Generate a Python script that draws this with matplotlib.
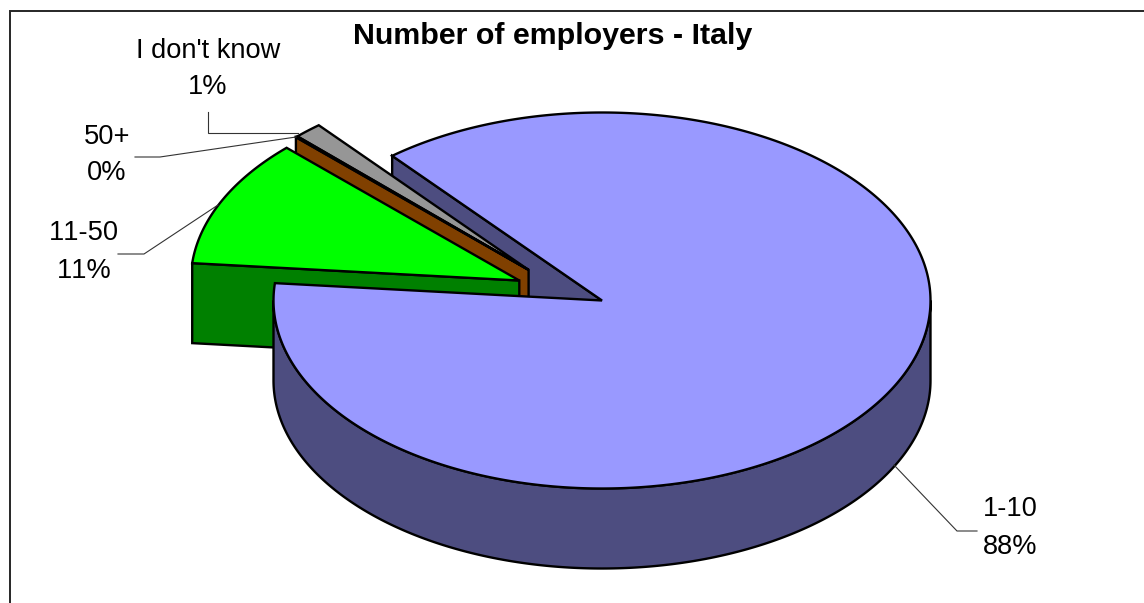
import numpy as np
import matplotlib
matplotlib.use("Agg")
import matplotlib.pyplot as plt
from matplotlib.patches import Polygon

categories = ["1-10", "11-50", "50+", "I don't know"]
shares = [87.5, 11.0, 0.1, 1.4]
title = "Number of employers - Italy"

top_colors = ["#9999FF", "#00FF00", "#FF8000", "#969696"]
wall_colors = ["#4D4D80", "#008000", "#804000", "#4B4B4B"]

# pie geometry in pixels
cx, cy = 602, 300.5
rx, ry = 328.5, 188
depth = 80
first_angle = 129.7
offsets = [(0, 0), (-82.7, -20), (-73.4, -30.6), (-73.4, -30.6)]
edge = dict(edgecolor="black", linewidth=1.7, joinstyle="miter")

label_spots = [(1010, 528), (84, 252), (107, 155), (208, 69)]
leaders = [
    ([894, 957, 977], [465, 531, 531]),
    ([118, 144, 218], [254, 254, 205]),
    ([135, 160, 296], [157, 157, 137]),
    ([208, 208, 298], [112, 133, 133]),
]

plt.rcParams["text.kerning_factor"] = 6


def arc(angle_a, angle_b, x0, y0, drop=0):
    n = max(2, int(abs(angle_b - angle_a)) * 2)
    t = np.radians(np.linspace(angle_a, angle_b, n))
    return np.column_stack([x0 + rx * np.cos(t), y0 - ry * np.sin(t) + drop])


def top_face(a, b, x0, y0, color):
    pts = np.vstack([[x0, y0], arc(a, b, x0, y0)])
    ax.add_patch(Polygon(pts, closed=True, facecolor=color, **edge))


def cut_wall(angle, x0, y0, color):
    # flat face running from the slice tip out to the rim
    rim = arc(angle, angle, x0, y0)[0]
    pts = [(x0, y0), rim, (rim[0], rim[1] + depth), (x0, y0 + depth)]
    ax.add_patch(Polygon(pts, closed=True, facecolor=color, **edge))


fig = plt.figure(figsize=(11.44, 6.03), dpi=100)
ax = fig.add_axes([0, 0, 1, 1])
ax.set_xlim(0, 1144)
ax.set_ylim(603, 0)
ax.axis("off")

# slice limits, going clockwise from the first angle
sweeps = np.array(shares) / sum(shares) * 360
ends = first_angle - np.cumsum(sweeps)
starts = ends + sweeps
tips = [(cx + dx, cy + dy) for dx, dy in offsets]

# back to front
cut_wall(starts[0], cx, cy, wall_colors[0])
top_face(ends[3] + 360, starts[3] + 360, *tips[3], top_colors[3])
cut_wall(starts[2] + 360, *tips[2], wall_colors[2])
top_face(ends[2] + 360, starts[2] + 360, *tips[2], top_colors[2])
cut_wall(starts[1] + 360, *tips[1], wall_colors[1])
top_face(ends[1] + 360, starts[1] + 360, *tips[1], top_colors[1])

# rim of the big slice, only the front half shows
rim_top = arc(-180, 0, cx, cy)
rim_bottom = arc(0, -180, cx, cy, depth)
ax.add_patch(Polygon(np.vstack([rim_top, rim_bottom]), closed=True,
                     facecolor=wall_colors[0], **edge))
top_face(ends[0], starts[0], cx, cy, top_colors[0])

# outer border, open at the right and bottom
ax.plot([10, 10, 1144], [603, 11, 11], color="#262626", lw=1.4, solid_joinstyle="miter")

for xs, ys in leaders:
    ax.plot(xs, ys, color="#333333", lw=0.8, solid_joinstyle="miter", zorder=1)

font = ["Liberation Sans", "DejaVu Sans"]
ax.text(553, 36, title, family=font, fontsize=21.9, fontweight="bold",
        ha="center", va="center", color="black")
for name, share, (x, y) in zip(categories, shares, label_spots):
    ax.text(x, y, "%s\n%.0f%%" % (name, share), family=font, fontsize=19.6,
            ha="center", va="center", linespacing=1.55, color="black")

fig.savefig("out.png", dpi=100, facecolor="white")
